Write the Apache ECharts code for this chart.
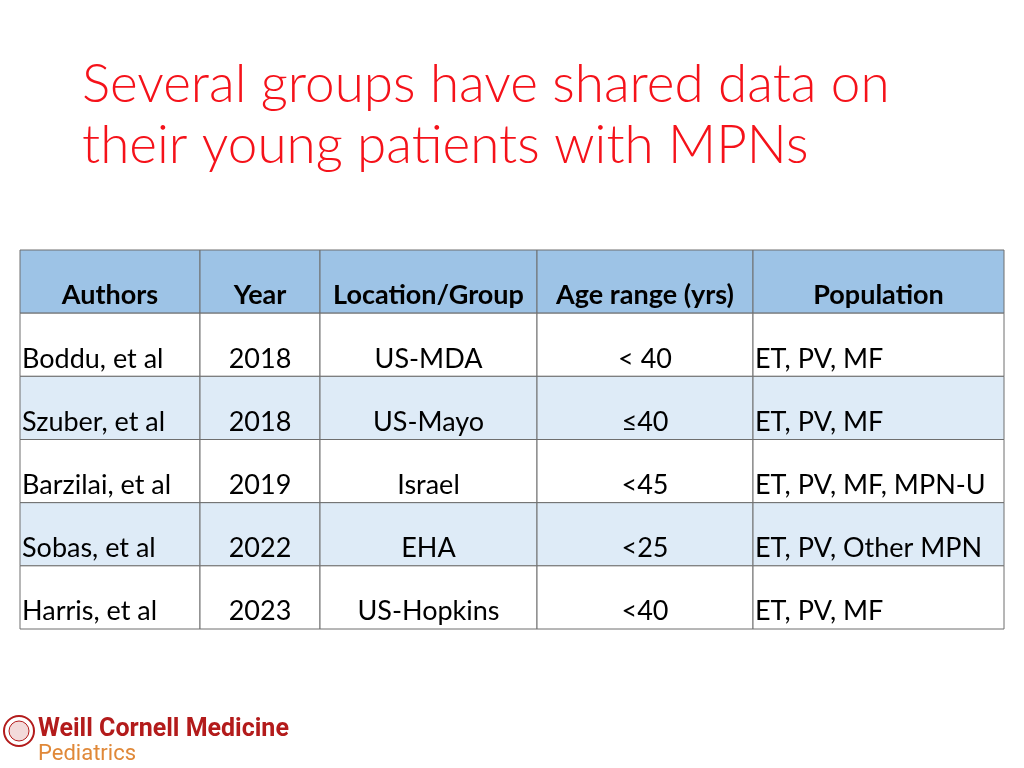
<!DOCTYPE html>
<html><head><meta charset="utf-8">
<script src="https://cdn.jsdelivr.net/npm/echarts@6/dist/echarts.min.js"></script>
<style>html,body{margin:0;padding:0;background:#fff}#c{width:1024px;height:768px}</style>
</head><body><div id="c"></div>
<script>
const titleLines = ["Several groups have shared data on", "their young patients with MPNs"];
const headers = ["Authors", "Year", "Location/Group", "Age range (yrs)", "Population"];
const authors = ["Boddu, et al", "Szuber, et al", "Barzilai, et al", "Sobas, et al", "Harris, et al"];
const years = ["2018", "2018", "2019", "2022", "2023"];
const locations = ["US-MDA", "US-Mayo", "Israel", "EHA", "US-Hopkins"];
const ageRanges = ["< 40", "≤40", "<45", "<25", "<40"];
const populations = ["ET, PV, MF", "ET, PV, MF", "ET, PV, MF, MPN-U", "ET, PV, Other MPN", "ET, PV, MF"];

// layout (style) settings
const colEdges = [0, 180, 300, 517, 733, 984];
const colAlign = ["left", "center", "center", "center", "left"];
const FONT = "Lato";

const columns = [authors, years, locations, ageRanges, populations];
const rowLabels = ["header"].concat(authors.map((a, i) => "r" + i));
const cells = [];
rowLabels.forEach((r, ri) => {
  for (let c = 0; c < headers.length; c++) {
    const txt = ri === 0 ? headers[c] : columns[c][ri - 1];
    cells.push({ value: [c, ri], txt: txt });
  }
});

const chart = echarts.init(document.getElementById('c'), null, { renderer: 'canvas' });
chart.setOption({
  animation: false,
  backgroundColor: '#fff',
  title: [{
    text: titleLines.join("\n"),
    left: 77, top: 49,
    textStyle: { color: '#F5121A', fontFamily: FONT, fontWeight: 300, fontSize: 53, lineHeight: 61 }
  }],
  grid: { left: 20, right: 20, top: 250, bottom: 139 },
  xAxis: { type: 'value', min: 0, max: 984, show: false },
  yAxis: { type: 'category', data: rowLabels, inverse: true, show: false },
  series: [{
    type: 'custom',
    data: cells,
    renderItem: function (params, api) {
      const c = api.value(0), r = api.value(1);
      const x0 = api.coord([colEdges[c], r])[0];
      const x1 = api.coord([colEdges[c + 1], r])[0];
      const bw = api.size([0, 1])[1];
      const yc = api.coord([0, r])[1];
      const y0 = yc - bw / 2, y1 = yc + bw / 2;
      const fill = r === 0 ? '#9DC3E6' : (r % 2 === 0 ? '#DEEBF7' : '#FFFFFF');
      const txt = cells[params.dataIndex].txt;
      const align = r === 0 ? 'center' : colAlign[c];
      const tx = align === 'center' ? (x0 + x1) / 2 : x0 + 2;
      return {
        type: 'group',
        children: [
          { type: 'rect', shape: { x: x0, y: y0, width: x1 - x0, height: y1 - y0 },
            style: { fill: fill, stroke: '#6E6E6E', lineWidth: 1 } },
          { type: 'text', x: tx, y: y1 - 4,
            style: { text: txt, fill: '#000', font: (r === 0 ? 'bold ' : '') + '27px ' + FONT,
              align: align, verticalAlign: 'bottom' } }
        ]
      };
    }
  }],
  graphic: [
    { type: 'circle', shape: { cx: 19, cy: 731, r: 15 }, style: { fill: '#fff', stroke: '#B31B1B', lineWidth: 2 } },
    { type: 'circle', shape: { cx: 19, cy: 731, r: 10 }, style: { fill: '#F3DADA', stroke: '#B31B1B', lineWidth: 1 } },
    { type: 'text', left: 38, top: 717, style: { text: 'Weill Cornell Medicine', font: 'bold 25px Roboto', fill: '#B31B1B' } },
    { type: 'text', left: 38, top: 743, style: { text: 'Pediatrics', font: '22px Roboto', fill: '#E08838' } }
  ]
});
</script></body></html>
